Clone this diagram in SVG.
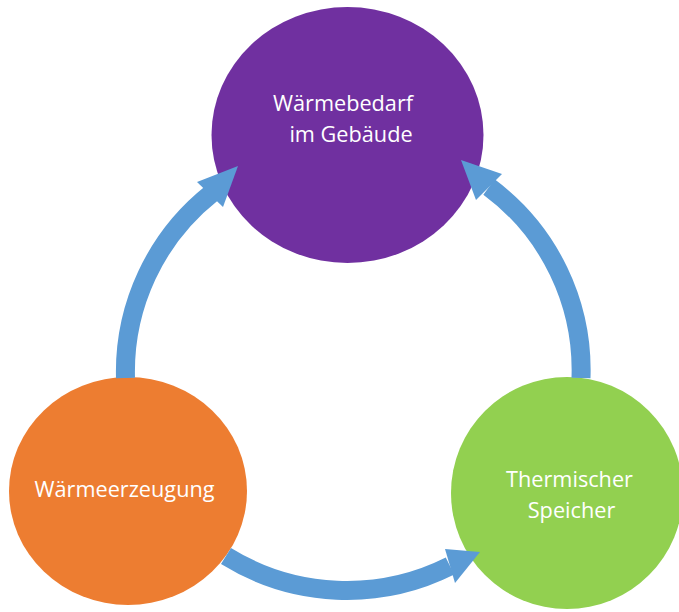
<svg xmlns="http://www.w3.org/2000/svg" width="679" height="612" viewBox="0 0 679 612">
<style>
.lbl{font-family:"Open Sans","Liberation Sans",sans-serif;font-size:21.7px;fill:#ffffff;text-anchor:middle}
.shaft{fill:none;stroke:#5B9BD5;stroke-width:19}
.head{fill:#5B9BD5}
</style>
<rect width="679" height="612" fill="#ffffff"/>
<g id="node-waermebedarf">
<ellipse cx="347.5" cy="135" rx="136" ry="128" fill="#7030A0"/>
<text class="lbl" x="343" y="111">Wärmebedarf</text>
<text class="lbl" x="351" y="142">im Gebäude</text>
</g>
<g id="node-waermeerzeugung">
<ellipse cx="128" cy="491" rx="119" ry="114" fill="#ED7D31"/>
<text class="lbl" x="124.5" y="497">Wärmeerzeugung</text>
</g>
<g id="node-speicher">
<ellipse cx="567" cy="493" rx="116" ry="116" fill="#92D050"/>
<text class="lbl" x="569.5" y="487">Thermischer</text>
<text class="lbl" x="571.5" y="518">Speicher</text>
</g>
<g id="connectors">
<path class="shaft" d="M125.5,378 A228,228 0 0 1 212,193"/>
<polygon class="head" points="238,166 197,182 223,207"/>
<path class="shaft" d="M581,378 A228,228 0 0 0 489,187"/>
<polygon class="head" points="461,160 502,174 476,200"/>
<path class="shaft" d="M226,556 A230,230 0 0 0 450,566"/>
<polygon class="head" points="480,552 445,549 455,583"/>
</g>
</svg>
